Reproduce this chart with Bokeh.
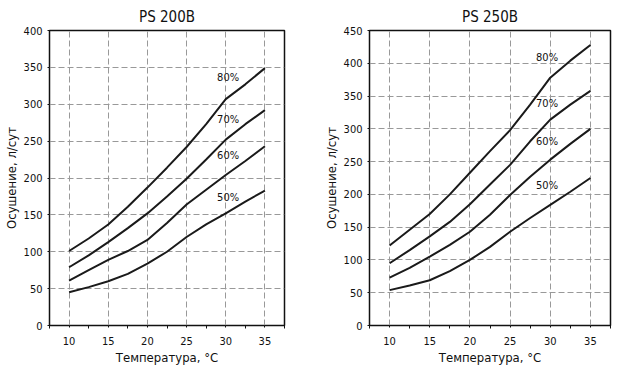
from bokeh.plotting import figure
from bokeh.layouts import row
from bokeh.models import FixedTicker, Range1d
from bokeh.embed import file_html
from bokeh.resources import INLINE
from bokeh.core.properties import value

temps = [10, 12.5, 15, 17.5, 20, 22.5, 25, 27.5, 30, 32.5, 35]
major_ticks = [10, 15, 20, 25, 30, 35]
rh_labels = ["80%", "70%", "60%", "50%"]

ps200_80 = [101, 118, 137, 161, 187, 214, 242, 273, 307, 327, 349]
ps200_70 = [79, 95, 113, 132, 152, 175, 199, 225, 252, 273, 292]
ps200_60 = [61, 75, 89, 101, 116, 139, 164, 184, 204, 223, 243]
ps200_50 = [45, 52, 60, 70, 84, 100, 120, 137, 152, 168, 183]
ps200_label_x = [30.3, 30.3, 30.3, 30.3]
ps200_label_y = [336, 280, 230, 173]

ps250_80 = [122, 146, 170, 200, 233, 266, 298, 337, 378, 404, 428]
ps250_70 = [95, 115, 136, 158, 185, 215, 245, 281, 314, 337, 358]
ps250_60 = [73, 88, 105, 123, 143, 169, 199, 227, 253, 277, 300]
ps250_50 = [54, 61, 69, 83, 100, 120, 143, 164, 184, 204, 225]
ps250_label_x = [29.6, 29.6, 29.6, 29.6]
ps250_label_y = [409, 339, 281, 213]

FONT = "DejaVu Sans Condensed, Liberation Sans Narrow, Roboto Condensed, Liberation Sans, sans-serif"


def make(title, series, label_x, label_y, ymax, width, bl, br):
    p = figure(width=width, height=367, output_backend="svg", toolbar_location=None,
               x_range=Range1d(7.5, 37.5), y_range=Range1d(0, ymax),
               min_border_left=bl, min_border_right=br, min_border_top=24, min_border_bottom=40)
    p.title.text = title
    p.title.align = "center"
    p.title.text_font = FONT
    p.title.text_font_size = "15px"
    p.title.text_font_style = "normal"
    p.title.text_color = "#111111"
    p.outline_line_color = "#111111"
    p.outline_line_width = 1.5
    for s in series:
        p.line(temps, s, line_color="#1a1a1a", line_width=2)
    p.text(x=label_x, y=label_y, text=rh_labels, text_font=value(FONT),
           text_font_size="11px", text_align="center", text_baseline="middle", text_color="#111111")
    p.xaxis.ticker = FixedTicker(ticks=major_ticks, minor_ticks=[7.5, 12.5, 17.5, 22.5, 27.5, 32.5, 37.5])
    p.yaxis.ticker = FixedTicker(ticks=list(range(0, ymax + 1, 50)))
    for ax in (p.xaxis[0], p.yaxis[0]):
        ax.axis_line_color = None
        ax.major_label_text_font = FONT
        ax.major_label_text_font_size = "11px"
        ax.major_label_text_color = "#111111"
        ax.axis_label_text_font = FONT
        ax.axis_label_text_font_size = "13px"
        ax.axis_label_text_font_style = "normal"
        ax.axis_label_text_color = "#111111"
        ax.major_tick_line_color = "#111111"
        ax.major_tick_in = 0
        ax.major_tick_out = 2
        ax.minor_tick_line_color = "#111111"
        ax.minor_tick_in = 0
        ax.minor_tick_out = 3
    p.yaxis.minor_tick_line_color = None
    p.xaxis.axis_label = "Температура, °C"
    p.yaxis.axis_label = "Осушение, л/сут"
    p.xaxis.major_label_standoff = 8
    p.xaxis.axis_label_standoff = 2
    p.yaxis.major_label_standoff = 5
    p.yaxis.axis_label_standoff = 2
    p.xgrid.grid_line_color = "#999999"
    p.ygrid.grid_line_color = "#999999"
    p.xgrid.grid_line_dash = "6 3"
    p.ygrid.grid_line_dash = "6 3"
    p.background_fill_color = "white"
    return p


p1 = make("PS 200B", [ps200_80, ps200_70, ps200_60, ps200_50], ps200_label_x, ps200_label_y, 400, 305, 41, 21)
p2 = make("PS 250B", [ps250_80, ps250_70, ps250_60, ps250_50], ps250_label_x, ps250_label_y, 450, 310, 64, 5)
p = row(p1, p2)

open("out.html", "w").write(file_html(p, INLINE))
